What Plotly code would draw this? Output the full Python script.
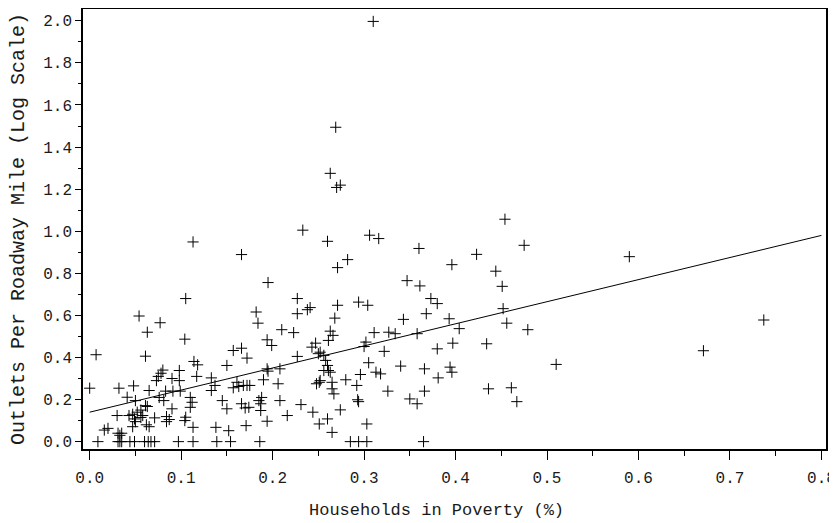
import plotly.graph_objects as go

# Households in poverty (fraction) and outlets per roadway mile
poverty = [
    0.009, 0.031, 0.033, 0.035, 0.044, 0.049, 0.060, 0.064, 0.067, 0.071, 0.097, 0.113,
    0.139, 0.154, 0.186, 0.285, 0.294, 0.303, 0.365,
    0.016, 0.020, 0.031, 0.035, 0.033, 0.047, 0.050, 0.062, 0.065, 0.084, 0.104, 0.113,
    0.030, 0.043, 0.047, 0.052, 0.056, 0.058, 0.049, 0.056,
    0.063, 0.071, 0.084, 0.087, 0.090, 0.105,
    0.000, 0.032, 0.048, 0.041, 0.065, 0.050, 0.061, 0.083, 0.091, 0.099, 0.076, 0.081,
    0.110, 0.112, 0.110,
    0.007, 0.061, 0.080, 0.075, 0.073, 0.078, 0.090, 0.098, 0.098, 0.114, 0.118,
    0.054, 0.077, 0.063, 0.104, 0.105, 0.113,
    0.182, 0.184, 0.227, 0.227, 0.210, 0.223, 0.194, 0.199, 0.157, 0.166, 0.172, 0.150,
    0.227, 0.117, 0.133, 0.194, 0.195, 0.208, 0.190, 0.137, 0.133, 0.161, 0.157, 0.163,
    0.168, 0.172, 0.175, 0.206, 0.145, 0.150, 0.166, 0.170, 0.174, 0.185, 0.188, 0.187,
    0.187, 0.208, 0.231, 0.216, 0.194, 0.138, 0.152, 0.171,
    0.271, 0.294, 0.304, 0.238, 0.241, 0.268, 0.343, 0.263, 0.266, 0.261, 0.311, 0.327,
    0.334, 0.358, 0.247, 0.243, 0.252, 0.250, 0.256, 0.302, 0.300, 0.322, 0.258, 0.260,
    0.261, 0.256, 0.263, 0.305, 0.340, 0.313, 0.318, 0.296, 0.280, 0.251, 0.252, 0.248,
    0.265, 0.265, 0.267, 0.292, 0.326, 0.293, 0.294, 0.350, 0.358, 0.274, 0.244, 0.260,
    0.251, 0.265, 0.303,
    0.380, 0.373, 0.368, 0.393, 0.452, 0.456, 0.404, 0.479, 0.380, 0.397, 0.434, 0.366,
    0.394, 0.396, 0.381, 0.366, 0.436, 0.461, 0.467,
    0.166, 0.263, 0.270, 0.274, 0.233, 0.260, 0.306, 0.316, 0.282, 0.271, 0.195, 0.347,
    0.269, 0.310, 0.454, 0.360, 0.475, 0.423, 0.396, 0.361, 0.444, 0.451,
    0.510, 0.590, 0.671, 0.737,
]
outlets = [
    0.0, 0.0, 0.0, 0.0, 0.0, 0.0, 0.0, 0.0, 0.0, 0.0, 0.0, 0.0,
    0.0, 0.0, 0.0, 0.0, 0.0, 0.0, 0.0,
    0.055, 0.063, 0.040, 0.040, 0.030, 0.071, 0.095, 0.080, 0.071, 0.095, 0.100, 0.068,
    0.124, 0.124, 0.130, 0.140, 0.150, 0.124, 0.108, 0.115,
    0.167, 0.113, 0.119, 0.105, 0.156, 0.116,
    0.254, 0.254, 0.265, 0.211, 0.243, 0.195, 0.171, 0.240, 0.240, 0.240, 0.210, 0.195,
    0.210, 0.187, 0.163,
    0.413, 0.406, 0.340, 0.310, 0.290, 0.325, 0.300, 0.290, 0.338, 0.381, 0.365,
    0.597, 0.565, 0.520, 0.487, 0.680, 0.949,
    0.616, 0.563, 0.608, 0.680, 0.532, 0.518, 0.484, 0.457, 0.433, 0.444, 0.397, 0.362,
    0.405, 0.310, 0.303, 0.346, 0.335, 0.346, 0.294, 0.267, 0.243, 0.282, 0.256, 0.262,
    0.267, 0.267, 0.267, 0.275, 0.195, 0.156, 0.180, 0.160, 0.163, 0.195, 0.210, 0.180,
    0.148, 0.195, 0.176, 0.124, 0.097, 0.068, 0.052, 0.076,
    0.648, 0.663, 0.648, 0.627, 0.637, 0.587, 0.581, 0.525, 0.505, 0.481, 0.518, 0.520,
    0.513, 0.513, 0.468, 0.449, 0.425, 0.418, 0.410, 0.473, 0.452, 0.429, 0.386, 0.362,
    0.338, 0.338, 0.330, 0.375, 0.359, 0.330, 0.322, 0.319, 0.294, 0.282, 0.290, 0.275,
    0.282, 0.251, 0.227, 0.267, 0.240, 0.199, 0.190, 0.203, 0.180, 0.151, 0.140, 0.108,
    0.084, 0.044, 0.084,
    0.656, 0.680, 0.608, 0.584, 0.632, 0.563, 0.537, 0.532, 0.441, 0.468, 0.465, 0.346,
    0.354, 0.330, 0.303, 0.240, 0.251, 0.256, 0.190,
    0.889, 1.275, 1.208, 1.219, 1.005, 0.952, 0.981, 0.965, 0.865, 0.827, 0.756, 0.765,
    1.494, 1.997, 1.057, 0.918, 0.933, 0.890, 0.841, 0.740, 0.810, 0.738,
    0.367, 0.879, 0.432, 0.578,
]

# Fitted regression line
fit_intercept = 0.140
fit_slope = 1.05
fit_x = [0.0, 0.8]
fit_y = [fit_intercept + fit_slope * v for v in fit_x]

x_ticks = [0.0, 0.1, 0.2, 0.3, 0.4, 0.5, 0.6, 0.7, 0.8]
y_ticks = [0.0, 0.2, 0.4, 0.6, 0.8, 1.0, 1.2, 1.4, 1.6, 1.8, 2.0]

FONT = "Liberation Mono, Courier New, monospace"
INK = "#1a1a1a"

# the page body has an 8px margin, so the figure is offset by 8px in the window
W, H = 837, 515
ML, MR, MT, MB = 75, 19, 1, 74
PW, PH = W - ML - MR, H - MT - MB

fig = go.Figure()
fig.add_trace(go.Scatter(
    x=fit_x, y=fit_y, mode="lines",
    line=dict(color="black", width=1), hoverinfo="skip", showlegend=False,
))
fig.add_trace(go.Scatter(
    x=poverty, y=outlets, mode="markers",
    marker=dict(symbol="cross-thin", size=8, line=dict(color="black", width=1), color="black"),
    showlegend=False,
))

axis_common = dict(
    showgrid=False, zeroline=False, showline=True, mirror=True,
    linecolor="black", linewidth=1.5, ticks="outside", tickcolor="black",
    tickfont=dict(family=FONT, size=16, color=INK),
)
fig.update_xaxes(
    range=[-0.0073, 0.805], tickvals=x_ticks, ticktext=[f"{v:.1f}" for v in x_ticks],
    ticklen=9, tickwidth=1, ticklabelstandoff=4,
    minor=dict(dtick=0.05, tick0=0, ticks="outside", ticklen=5, tickcolor="black", tickwidth=1),
    **axis_common,
)
fig.update_yaxes(
    range=[-0.035, 2.056], tickvals=y_ticks, ticktext=[f"{v:.1f}" for v in y_ticks],
    ticklen=6, tickwidth=1,
    minor=dict(dtick=0.1, tick0=0, ticks="outside", ticklen=3, tickcolor="black", tickwidth=1),
    **axis_common,
)

fig.update_layout(
    width=W, height=H,
    margin=dict(l=ML, r=MR, t=MT, b=MB, autoexpand=False),
    paper_bgcolor="white", plot_bgcolor="white",
    annotations=[
        dict(text="Households in Poverty (%)", xref="paper", yref="paper",
             x=(428 - ML) / PW, y=-(502 - (MT + PH)) / PH,
             xanchor="center", yanchor="middle", showarrow=False,
             font=dict(family=FONT, size=17, color=INK)),
        dict(text="Outlets Per Roadway Mile (Log Scale)", xref="paper", yref="paper",
             x=-(ML - 10) / PW, y=0.5, textangle=-90,
             xanchor="center", yanchor="middle", showarrow=False,
             font=dict(family=FONT, size=20, color=INK)),
    ],
)

fig.write_html("out.html")
